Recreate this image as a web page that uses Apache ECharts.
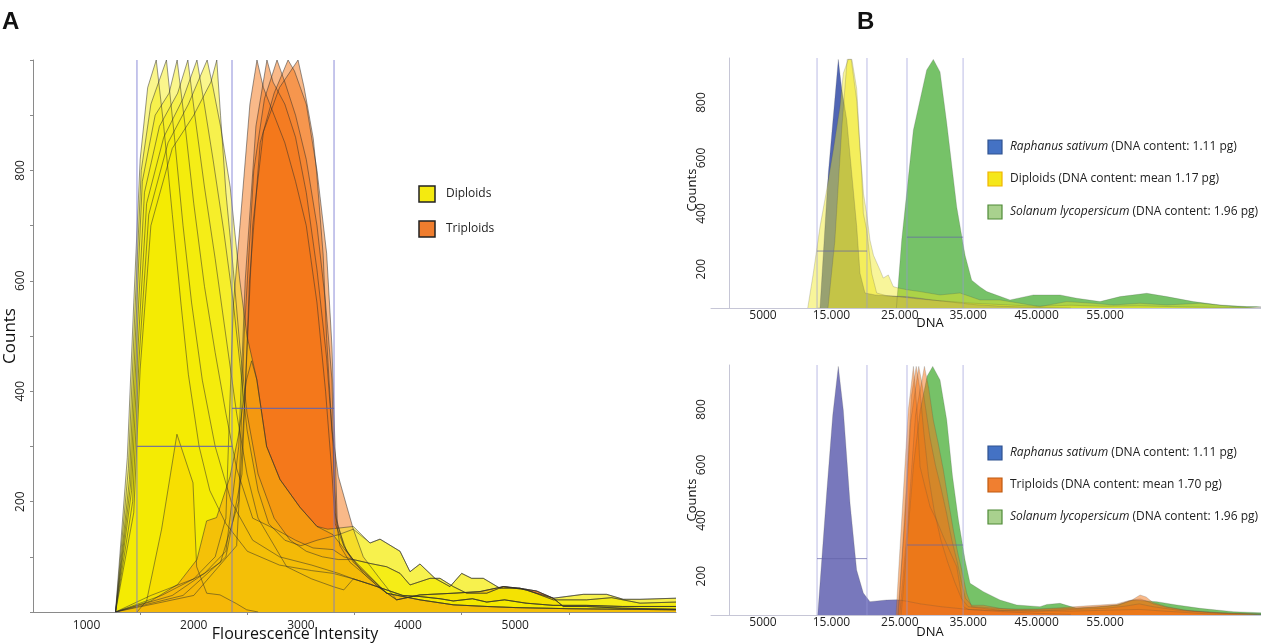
<!DOCTYPE html>
<html><head><meta charset="utf-8">
<script src="https://cdn.jsdelivr.net/npm/echarts@6/dist/echarts.min.js"></script>
<style>html,body{margin:0;padding:0;background:#fff}#c{width:1261px;height:643px}</style>
</head><body><div id="c"></div>
<script>
// ---------- Panel A : Flourescence Intensity histograms ----------
const xLabelsA = [1000, 2000, 3000, 4000, 5000];
const xTicksA = [1500, 2500, 3500, 4500, 5500];
const yLabelsA = [200, 400, 600, 800];
const gateXA = [1470, 2357, 3309];
const gateYA = [300, 369];

// shared tails
const tailY1 = [[3645,125],[3738,132],[3925,110],[4018,73],[4111,87],[4251,61],[4391,46],[4500,70],[4593,61],[4702,61],[4858,43],[5044,43],[5355,25],[5635,32],[5853,32],[6008,23],[6164,23],[6500,25]];
const tailY2 = [[3489,95],[3645,88],[3800,82],[3925,70],[4018,49],[4205,61],[4298,61],[4422,46],[4547,34],[4734,34],[4889,46],[5107,40],[5355,22],[5666,22],[5900,26],[6164,16],[6500,18]];
const tailY3 = [[3489,60],[3650,50],[3800,40],[3950,30],[4111,28],[4300,24],[4422,20],[4600,24],[4734,18],[4900,22],[5100,16],[5355,12],[5666,12],[6000,10],[6500,10]];
const tailO1 = [[3582,70],[3738,43],[3893,22],[4111,31],[4422,34],[4671,37],[4889,46],[5044,43],[5200,38],[5355,25],[5448,10],[5666,10],[5978,7],[6500,5]];
const tailO2 = [[3800,34],[4111,22],[4422,13],[4734,10],[5000,8],[5500,6],[6500,4]];

// triploid samples (orange)
const tri1 = [[1270,0],[1600,30],[2000,60],[2200,100],[2300,170],[2369,555],[2431,700],[2524,920],[2590,1000],[2650,950],[2750,900],[2850,850],[2950,780],[3050,700],[3150,560],[3230,400],[3290,250],[3320,160],[3400,120],[3500,90]];
const tri2 = [[1270,0],[1700,30],[2100,70],[2300,110],[2420,300],[2480,600],[2580,880],[2683,1000],[2740,960],[2850,920],[2950,860],[3050,760],[3150,620],[3240,460],[3300,300],[3320,180],[3364,120],[3458,90]];
const tri3 = [[1270,0],[1800,30],[2250,90],[2420,200],[2470,500],[2560,800],[2660,930],[2777,1000],[2850,960],[2950,900],[3050,820],[3150,700],[3230,560],[3290,420],[3310,250],[3330,170],[3400,120],[3489,90]];
const tri4 = [[1270,0],[1900,30],[2300,100],[2450,250],[2520,600],[2620,850],[2750,940],[2880,1000],[2940,980],[3050,920],[3150,800],[3240,650],[3290,480],[3318,300],[3340,158],[3427,110],[3489,95]];
const tri5 = [[1270,0],[2000,30],[2400,120],[2480,400],[2550,700],[2650,870],[2800,950],[2973,1000],[3030,950],[3115,858],[3146,798],[3208,646],[3240,495],[3290,330],[3349,246],[3427,192],[3489,150],[3582,100],[3738,60]];
const tri6 = [[1270,0],[1600,20],[1850,50],[2030,95],[2120,165],[2213,171],[2338,245],[2416,319],[2494,422],[2540,455],[2587,422],[2680,300],[2805,240],[2990,190],[3150,155],[3300,140],[3400,115],[3489,95]];

// diploid samples (yellow)
const dip1 = [[1270,0],[1380,280],[1440,560],[1500,820],[1570,950],[1650,1000],[1720,880],[1800,720],[1880,560],[1950,430],[2050,300],[2150,220],[2300,160],[2500,110],[2800,85],[3100,75],[3300,70]];
const dip2 = [[1270,0],[1390,260],[1450,540],[1510,800],[1600,920],[1745,1000],[1820,860],[1900,700],[1980,560],[2080,420],[2200,300],[2350,200],[2550,130],[2800,100],[3100,85],[3350,70]];
const dip3 = [[1270,0],[1400,240],[1460,520],[1520,780],[1640,900],[1770,940],[1845,1000],[1920,880],[2000,740],[2100,590],[2200,470],[2300,360],[2400,260],[2550,170],[2773,149],[2950,130],[3113,116],[3300,113],[3400,100]];
const dip4 = [[1270,0],[1410,230],[1470,500],[1540,760],[1680,880],[1850,940],[1945,1000],[2010,900],[2100,770],[2200,640],[2300,500],[2400,360],[2497,250],[2600,170],[2867,82],[3100,60],[3300,46],[3400,40]];
const dip5 = [[1270,0],[1420,220],[1480,480],[1560,740],[1720,860],[1900,930],[2030,1000],[2090,930],[2180,820],[2280,690],[2369,560],[2431,450],[2497,330],[2600,220],[2700,160],[2850,130],[3000,120],[3150,130],[3350,140],[3489,150]];
const dip6 = [[1270,0],[1430,200],[1490,460],[1580,720],[1760,850],[1950,920],[2125,1000],[2180,950],[2250,880],[2340,770],[2430,600],[2497,500],[2590,420],[2680,300],[2805,240],[2990,190],[3150,155],[3250,150],[3350,152],[3489,155]];
const dip7 = [[1270,0],[1440,180],[1500,440],[1600,700],[1800,840],[2000,900],[2160,960],[2215,1000],[2250,900],[2300,760],[2369,620],[2431,480],[2497,360],[2600,250],[2750,170],[2900,130],[3050,110],[3200,100],[3350,95]];
const dip0 = [[1470,0],[1560,20],[1700,150],[1843,322],[1993,234],[2027,82],[2121,34],[2245,31],[2400,15],[2494,4],[2600,0]];

// ---------- Panel B : DNA histograms ----------
const xLabelsB = [5000, 15000, 25000, 35000, 45000, 55000];
const xLabelTextB = ['5000', '15.000', '25.000', '35.000', '45.0000', '55.000'];
const yLabelsB = [200, 400, 600, 800];
const gateXB = [12900, 20200, 26050, 34250];
const gateYB1 = [265, 315];
const gateYB2 = [263, 312];

// upper plot
const raphTop = [[13000,60],[13334,60],[14550,546],[16010,955],[16500,850],[17240,737],[18200,485],[18700,353],[19180,185],[19910,114],[21380,107],[23000,104],[25990,101],[28000,95],[30000,88],[33000,80],[36000,72],[40000,66],[45000,62],[50000,60]];
const dipPale = [[11540,60],[12355,185],[13335,353],[14310,485],[15280,629],[16260,785],[16740,905],[17470,955],[18000,955],[18700,850],[19180,640],[19700,470],[20160,400],[20640,305],[21150,250],[22100,197],[22590,168],[23320,179],[24050,137],[24780,132],[26000,126],[27960,119],[30880,107],[33800,114],[36730,89],[39650,89],[42570,77],[45500,65],[49400,83],[53300,77],[56230,71],[60130,77],[64020,71],[68900,77],[73770,65],[77800,62]];
const dipBright = [[14500,60],[15500,300],[16500,700],[17300,955],[17900,955],[18690,810],[19420,546],[19670,401],[20160,341],[20890,185],[21620,114],[23000,105],[25000,100],[28000,92],[31000,86],[35000,78],[40000,72],[45000,66],[50000,70],[55000,66],[60000,68],[66000,64],[72000,62],[77800,61]];
const solTop = [[24500,60],[24740,65],[25280,305],[26980,700],[28930,917],[29900,955],[30880,910],[31860,726],[33320,424],[34540,250],[35510,160],[36730,136],[37710,119],[41110,89],[44520,107],[48420,107],[50860,95],[54270,83],[57200,101],[61100,113],[64020,101],[67920,83],[71820,71],[75720,65],[77800,65]];

// lower plot
const raphBot = [[13000,60],[13230,60],[14310,499],[15200,780],[16010,955],[16740,798],[17720,463],[18690,222],[19670,139],[20640,108],[23080,114],[24540,115],[26000,110],[28000,100],[31000,90],[35000,80],[40000,72],[45000,66],[50000,62]];
const triB1 = [[24440,60],[25510,498],[26240,798],[26990,955],[27500,800],[27960,594],[28700,520],[29420,450],[30400,400],[31370,342],[32300,290],[33320,234],[34300,90],[35000,80],[37000,78],[40000,76],[45000,74],[50000,80],[55000,84],[58000,92],[60000,100],[62000,90],[66000,76],[72000,66],[77800,62]];
const triB2 = [[24700,60],[25800,420],[26600,760],[27770,955],[28200,900],[28800,800],[29400,700],[30200,600],[31000,520],[31800,430],[32600,330],[33400,250],[34000,180],[34600,120],[35500,95],[37220,95],[39650,84],[42090,80],[45500,82],[48420,86],[51840,92],[54270,96],[56710,100],[58500,112],[60130,118],[61100,110],[62070,100],[64000,88],[66460,78],[70000,70],[73770,66],[77800,63]];
const triB3 = [[25000,60],[26200,400],[27300,780],[28600,955],[29200,880],[29900,762],[30600,680],[31370,582],[32100,470],[32830,366],[33500,280],[34050,222],[34780,138],[35510,90],[37000,88],[40000,82],[45000,80],[50000,84],[54000,90],[57000,96],[59000,115],[60130,132],[61000,125],[62000,105],[64000,90],[67000,76],[72000,68],[77800,64]];
const triB4 = [[24800,60],[25900,500],[26700,850],[27400,955],[27900,880],[28500,720],[29200,560],[30000,440],[31000,330],[32000,250],[33000,180],[34000,120],[35000,90],[40000,76],[50000,74],[60000,80],[70000,64],[77800,62]];
const solBot = [[25200,60],[26000,300],[27000,600],[28000,800],[29000,920],[29810,955],[30880,906],[31860,762],[32700,560],[33570,402],[34540,258],[35270,174],[37220,144],[39650,114],[42090,96],[45500,90],[46500,98],[48420,102],[50860,84],[54270,90],[56710,96],[59150,114],[62560,108],[65490,96],[68900,84],[73770,72],[77800,68]];

// ---------- build ----------
const FONT = "'Open Sans', 'Noto Sans', sans-serif";
function join(head, tail) {
  const last = head[head.length - 1][0];
  return head.concat(tail.filter(p => p[0] > last));
}
function area(data, fill, opacity, xi, stroke, sw) {
  return {
    type: 'line', xAxisIndex: xi, yAxisIndex: xi, data: data, symbol: 'none', silent: true,
    lineStyle: { color: stroke || 'rgba(45,45,45,0.72)', width: sw == null ? 0.7 : sw },
    areaStyle: { color: fill, opacity: opacity, origin: 'start' },
    z: 2
  };
}
function seg(pts, xi, color, w) {
  return { type: 'line', xAxisIndex: xi, yAxisIndex: xi, data: pts, symbol: 'none', silent: true,
    lineStyle: { color: color, width: w }, z: 5 };
}
const YEL = 'rgb(245,234,0)', ORA = 'rgb(243,115,20)';
const series = [];
// Panel A: oranges under, yellows over, one low orange sample on top
[join(tri1, tailO2), join(tri2, tailO1), join(tri3, tailO2), join(tri4, tailO1), join(tri5, tailO1)]
  .forEach(d => series.push(area(d, ORA, 0.5, 0)));
[join(dip1, tailY3), join(dip2, tailY3), join(dip3, tailY2), join(dip4, tailY3), join(dip5, tailY1), join(dip6, tailY1), join(dip7, tailY2)]
  .forEach(d => series.push(area(d, YEL, 0.45, 0)));
series.push(area(dip0, 'rgb(250,212,0)', 0.5, 0));
series.push(area(join(tri6, tailO2), ORA, 0.35, 0));
// gates A
gateXA.forEach(x => series.push(seg([[x, 0], [x, 1000]], 0, 'rgba(120,120,210,0.7)', 1.2)));
series.push(seg([[gateXA[0], gateYA[0]], [gateXA[1], gateYA[0]]], 0, 'rgba(100,100,170,0.85)', 1.2));
series.push(seg([[gateXA[1], gateYA[1]], [gateXA[2], gateYA[1]]], 0, 'rgba(100,100,170,0.85)', 1.2));

// Panel B upper
const SB = 'rgba(70,70,70,0.35)';
series.push(area(solTop, 'rgb(118,194,104)', 1, 1, SB, 0.6));
series.push(area(raphTop, 'rgb(72,94,176)', 0.95, 1, SB, 0.6));
series.push(area(dipPale, 'rgb(240,232,30)', 0.45, 1, SB, 0.6));
series.push(area(dipBright, 'rgb(240,232,30)', 0.5, 1, SB, 0.6));
// Panel B lower
series.push(area(solBot, 'rgb(118,194,104)', 1, 2, SB, 0.6));
series.push(area(raphBot, 'rgb(120,120,188)', 1, 2, SB, 0.6));
[triB4, triB1, triB2, triB3].forEach(d => series.push(area(d, ORA, 0.5, 2, SB, 0.6)));
// gates B
[[1, gateYB1], [2, gateYB2]].forEach(([xi, gy]) => {
  gateXB.forEach(x => series.push(seg([[x, 60], [x, 960]], xi, 'rgba(150,150,215,0.65)', 1)));
  series.push(seg([[gateXB[0], gy[0]], [gateXB[1], gy[0]]], xi, 'rgba(100,100,170,0.7)', 1));
  series.push(seg([[gateXB[2], gy[1]], [gateXB[3], gy[1]]], xi, 'rgba(100,100,170,0.7)', 1));
});

const axLabel = { color: '#222', fontSize: 12, fontFamily: FONT };
function xB(gi) {
  return { type: 'value', gridIndex: gi, min: -2600, max: 77800,
    axisLine: { lineStyle: { color: '#c6c6d6' } }, axisTick: { show: false }, splitLine: { show: false },
    axisLabel: Object.assign({}, axLabel, { customValues: xLabelsB, margin: 2,
      formatter: v => xLabelTextB[xLabelsB.indexOf(v)] || '' }) };
}
function yB(gi) {
  return { type: 'value', gridIndex: gi, min: 60, max: 960,
    axisLine: { show: true, lineStyle: { color: '#c6c6d6' } }, axisTick: { show: false }, splitLine: { show: false },
    axisLabel: Object.assign({}, axLabel, { customValues: yLabelsB, rotate: 90, margin: 3, formatter: v => String(v) }) };
}

function legendItem(x, yc, fill, border, rich, text) {
  return [
    { type: 'rect', shape: { x: x, y: yc - 7, width: 14, height: 14 }, style: { fill: fill, stroke: border, lineWidth: 1.2 } },
    { type: 'text', x: x + 22, y: yc, style: { text: text, rich: rich, fill: '#222', fontSize: 12, fontFamily: FONT, verticalAlign: 'middle' } }
  ];
}
const rich = { i: { fontStyle: 'italic', fontSize: 12, fontFamily: FONT, fill: '#222' }, n: { fontSize: 12, fontFamily: FONT, fill: '#222' } };
const graphics = [
  { type: 'text', x: 2, y: 10, style: { text: 'A', fontSize: 24, fontWeight: 'bold', fontFamily: 'Liberation Sans, Arial, sans-serif', fill: '#111' } },
  { type: 'text', x: 857, y: 10, style: { text: 'B', fontSize: 24, fontWeight: 'bold', fontFamily: 'Liberation Sans, Arial, sans-serif', fill: '#111' } },
  { type: 'text', x: 295, y: 634, style: { text: 'Flourescence Intensity', fontSize: 16, fontFamily: FONT, fill: '#111', align: 'center', verticalAlign: 'middle' } },
  { type: 'text', x: 10, y: 336, rotation: Math.PI / 2, style: { text: 'Counts', fontSize: 17, fontFamily: FONT, fill: '#111', align: 'center', verticalAlign: 'middle' } },
  { type: 'text', x: 692, y: 190, rotation: Math.PI / 2, style: { text: 'Counts', fontSize: 13, fontFamily: FONT, fill: '#111', align: 'center', verticalAlign: 'middle' } },
  { type: 'text', x: 692, y: 500, rotation: Math.PI / 2, style: { text: 'Counts', fontSize: 13, fontFamily: FONT, fill: '#111', align: 'center', verticalAlign: 'middle' } },
  { type: 'text', x: 930, y: 323, style: { text: 'DNA', fontSize: 13, fontFamily: FONT, fill: '#111', align: 'center', verticalAlign: 'middle' } },
  { type: 'text', x: 930, y: 632, style: { text: 'DNA', fontSize: 13, fontFamily: FONT, fill: '#111', align: 'center', verticalAlign: 'middle' } },
  // legend A
  { type: 'rect', shape: { x: 419, y: 186, width: 16, height: 16 }, style: { fill: '#f4ea10', stroke: '#222', lineWidth: 1.5 } },
  { type: 'text', x: 446, y: 194, style: { text: 'Diploids', fontSize: 12, fontFamily: FONT, fill: '#222', verticalAlign: 'middle' } },
  { type: 'rect', shape: { x: 419, y: 221, width: 16, height: 16 }, style: { fill: '#ef7d2e', stroke: '#222', lineWidth: 1.5 } },
  { type: 'text', x: 446, y: 229, style: { text: 'Triploids', fontSize: 12, fontFamily: FONT, fill: '#222', verticalAlign: 'middle' } }
].concat(
  legendItem(988, 147, '#4472c4', '#2f528f', rich, '{i|Raphanus sativum}{n| (DNA content: 1.11 pg)}'),
  legendItem(988, 179, '#f5e71a', '#f0b400', rich, '{n|Diploids (DNA content: mean 1.17 pg)}'),
  legendItem(988, 212, '#a9d18e', '#4f8a37', rich, '{i|Solanum lycopersicum}{n| (DNA content: 1.96 pg)}'),
  legendItem(988, 453, '#4472c4', '#2f528f', rich, '{i|Raphanus sativum}{n| (DNA content: 1.11 pg)}'),
  legendItem(988, 485, '#f07f30', '#c05a10', rich, '{n|Triploids (DNA content: mean 1.70 pg)}'),
  legendItem(988, 517, '#a9d18e', '#4f8a37', rich, '{i|Solanum lycopersicum}{n| (DNA content: 1.96 pg)}')
);

const option = {
  animation: false,
  backgroundColor: '#fff',
  grid: [
    { left: 33, top: 60, width: 643, height: 552 },
    { left: 711, top: 58, width: 550, height: 250 },
    { left: 711, top: 365, width: 550, height: 250 }
  ],
  xAxis: [
    { type: 'value', gridIndex: 0, min: 500, max: 6500,
      axisLine: { lineStyle: { color: '#8a8a8a' } },
      axisTick: { show: true, customValues: xTicksA, length: 3, lineStyle: { color: '#8a8a8a' } },
      splitLine: { show: false },
      axisLabel: Object.assign({}, axLabel, { customValues: xLabelsA, margin: 8, formatter: v => String(v) }) },
    xB(1), xB(2)
  ],
  yAxis: [
    { type: 'value', gridIndex: 0, min: 0, max: 1000, interval: 100,
      axisLine: { show: true, lineStyle: { color: '#8a8a8a' } },
      axisTick: { show: true, length: 3, lineStyle: { color: '#8a8a8a' } },
      splitLine: { show: false },
      axisLabel: Object.assign({}, axLabel, { customValues: yLabelsA, rotate: 90, margin: 6, formatter: v => String(v) }) },
    yB(1), yB(2)
  ],
  series: series,
  graphic: graphics
};
const chart = echarts.init(document.getElementById('c'), null, { renderer: 'canvas' });
chart.setOption(option);
</script></body></html>
